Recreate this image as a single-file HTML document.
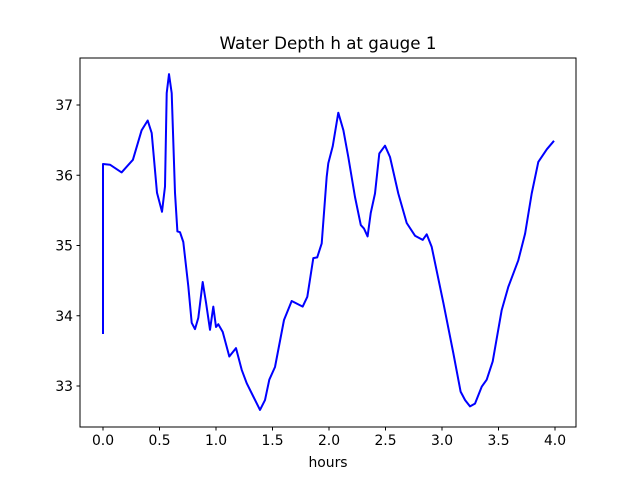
<!DOCTYPE html>
<html><head><meta charset="utf-8"><style>
body{margin:0;background:#fff}
svg text{font-family:"DejaVu Sans","Liberation Sans",sans-serif;fill:#000}
</style></head><body>
<svg id="chart" width="640" height="480" xmlns="http://www.w3.org/2000/svg">
<rect width="640" height="480" fill="#fff"/>
<text x="328" y="49" text-anchor="middle" font-size="16.7">Water Depth h at gauge 1</text>
<g id="axes"></g>
<polyline id="series" fill="none" stroke="#0000ff" stroke-width="2" stroke-linejoin="round"/>
<rect x="80" y="58" width="496" height="369" fill="none" stroke="#000" stroke-width="1"/>
<text x="328" y="467" text-anchor="middle" font-size="13.9">hours</text>
</svg>
<script>
const hours=[0,0,0.062,0.165,0.265,0.342,0.396,0.431,0.478,0.522,0.549,0.564,0.584,0.608,0.637,0.658,0.681,0.711,0.755,0.785,0.814,0.843,0.882,0.912,0.947,0.976,1.0,1.020,1.059,1.118,1.177,1.227,1.272,1.330,1.389,1.434,1.472,1.522,1.602,1.670,1.767,1.808,1.861,1.896,1.935,1.980,1.994,2.033,2.082,2.127,2.171,2.230,2.281,2.310,2.342,2.369,2.407,2.445,2.496,2.540,2.613,2.688,2.761,2.829,2.865,2.909,3.012,3.100,3.165,3.204,3.248,3.292,3.351,3.396,3.449,3.528,3.587,3.675,3.735,3.794,3.852,3.927,3.991];
const depth=[33.74,36.16,36.15,36.04,36.22,36.64,36.78,36.60,35.75,35.48,35.84,37.17,37.44,37.17,35.75,35.20,35.19,35.05,34.42,33.90,33.81,33.97,34.48,34.18,33.80,34.13,33.84,33.88,33.77,33.42,33.54,33.23,33.04,32.85,32.66,32.80,33.09,33.27,33.94,34.21,34.13,34.27,34.82,34.83,35.03,35.98,36.17,36.41,36.89,36.64,36.26,35.69,35.29,35.24,35.13,35.46,35.74,36.31,36.42,36.26,35.74,35.32,35.14,35.08,35.16,34.98,34.18,33.47,32.92,32.80,32.71,32.75,32.99,33.09,33.35,34.08,34.41,34.79,35.17,35.74,36.19,36.37,36.49];
const xTicks=[0,0.5,1,1.5,2,2.5,3,3.5,4];
const xTickLabels=["0.0","0.5","1.0","1.5","2.0","2.5","3.0","3.5","4.0"];
const yTicks=[33,34,35,36,37];
const yTickLabels=["33","34","35","36","37"];
const NS="http://www.w3.org/2000/svg";
function xs(v){return 103+v*113;}
function ys(v){return 105+(37-v)*70.25;}
const axes=document.getElementById('axes');
function mk(tag,attrs){const e=document.createElementNS(NS,tag);for(const k in attrs)e.setAttribute(k,attrs[k]);axes.appendChild(e);return e;}
xTicks.forEach((t,i)=>{
  const l=mk('line',{x1:xs(t),x2:xs(t),y1:427,y2:430.5,stroke:'#000'});
  
  
  const tx=mk('text',{x:xs(t),y:445,'text-anchor':'middle','font-size':'13.9'});
  tx.textContent=xTickLabels[i];
  
  
});
yTicks.forEach((t,i)=>{
  const l=mk('line',{x1:76.5,x2:80,y1:ys(t),y2:ys(t),stroke:'#000'});
  
  
  const tx=mk('text',{x:73,y:ys(t)+5,'text-anchor':'end','font-size':'13.9'});
  tx.textContent=yTickLabels[i];
  
  
});
document.getElementById('series').setAttribute('points',hours.map((h,i)=>xs(h).toFixed(1)+','+ys(depth[i]).toFixed(1)).join(' '));
</script>
</body></html>
